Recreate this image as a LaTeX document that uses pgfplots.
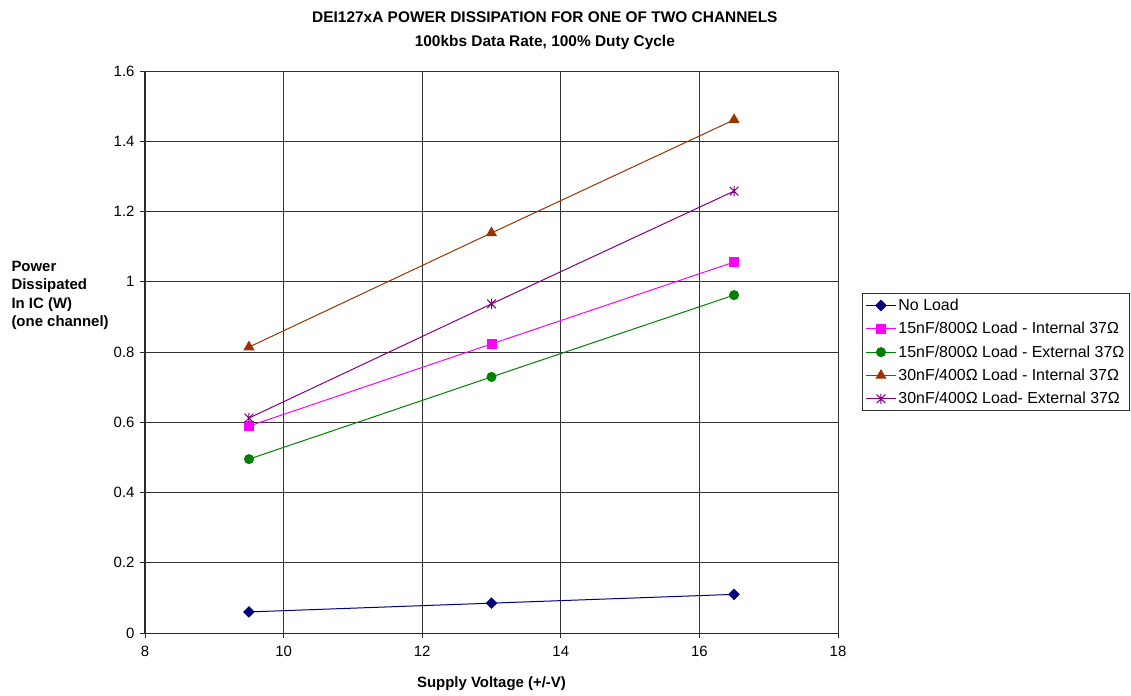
\documentclass[border=0pt]{standalone}
\usepackage{pgfplots}
\pgfplotsset{compat=1.18}
\usepackage{fontspec}
\setmainfont{Liberation Sans}

\definecolor{noload}{RGB}{0,0,128}
\definecolor{intA}{RGB}{255,0,255}
\definecolor{extA}{RGB}{0,128,0}
\definecolor{intB}{RGB}{153,51,0}
\definecolor{extB}{RGB}{128,0,128}

% Excel-style star: an X with a vertical bar through it
\pgfdeclareplotmark{xstar}{%
  \pgfpathmoveto{\pgfqpoint{-\pgfplotmarksize}{-\pgfplotmarksize}}%
  \pgfpathlineto{\pgfqpoint{\pgfplotmarksize}{\pgfplotmarksize}}%
  \pgfpathmoveto{\pgfqpoint{-\pgfplotmarksize}{\pgfplotmarksize}}%
  \pgfpathlineto{\pgfqpoint{\pgfplotmarksize}{-\pgfplotmarksize}}%
  \pgfpathmoveto{\pgfqpoint{0pt}{-1.2\pgfplotmarksize}}%
  \pgfpathlineto{\pgfqpoint{0pt}{1.2\pgfplotmarksize}}%
  \pgfusepathqstroke}

\begin{document}
\begin{tikzpicture}
\path[use as bounding box] (-145bp,-63bp) rectangle (986bp,633bp);
\begin{axis}[
    at={(0,0)}, anchor=south west,
    scale only axis,
    width=693bp, height=562bp,
    xmin=8, xmax=18, ymin=0, ymax=1.6,
    xtick={8,10,12,14,16,18},
    ytick={0,0.2,0.4,0.6,0.8,1,1.2,1.4,1.6},
    axis lines*=left,
    axis line style={black!85, line width=1bp},
    grid=major,
    grid style={black!80, line width=0.8bp},
    tick align=outside,
    major tick length=5bp,
    tick style={black!85, line width=0.8bp},
    /pgf/number format/assume math mode=true,
    ticklabel style={font=\fontsize{15}{18}\selectfont},
    xticklabel style={yshift=-5bp},
    yticklabel style={xshift=-2bp},
    clip=false,
    title={DEI127xA POWER DISSIPATION FOR ONE OF TWO CHANNELS\\100kbs Data Rate, 100\% Duty Cycle},
    title style={font=\bfseries\fontsize{15.5}{24}\selectfont, align=center,
        at={(axis description cs:0.577,1)}, anchor=center, yshift=34bp},
    xlabel={Supply Voltage (+/-V)},
    xlabel style={font=\bfseries\fontsize{15}{18}\selectfont,
        at={(axis description cs:0.5,0)}, anchor=center, yshift=-51bp},
    legend style={at={(axis description cs:1.0346,0.605)}, anchor=north west,
        draw=black!80, line width=1bp, fill=white,
        font=\fontsize{16}{18}\selectfont,
        inner xsep=3bp, inner ysep=3.5bp, row sep=6.3bp,
        cells={anchor=west}},
    legend image code/.code={%
        \draw[mark repeat=2,mark phase=2] plot coordinates {(0bp,0bp)(15bp,0bp)(30bp,0bp)};},
    every axis plot/.append style={line width=1bp},
]
\addplot[color=noload, mark=square*, mark size=3.6bp, mark options={rotate=45}]
    coordinates {(9.5,0.060) (13,0.085) (16.5,0.110)};
\addlegendentry{No Load}
\addplot[color=intA, mark=square*, mark size=4.5bp]
    coordinates {(9.5,0.589) (13,0.823) (16.5,1.056)};
\addlegendentry{15nF/800Ω Load - Internal 37Ω}
\addplot[color=extA, mark=*, mark size=4.5bp]
    coordinates {(9.5,0.495) (13,0.729) (16.5,0.962)};
\addlegendentry{15nF/800Ω Load - External 37Ω}
\addplot[color=intB, mark=triangle*, mark size=5.5bp]
    coordinates {(9.5,0.814) (13,1.139) (16.5,1.461)};
\addlegendentry{30nF/400Ω Load - Internal 37Ω}
\addplot[color=extB, mark=xstar, mark size=4.3bp]
    coordinates {(9.5,0.612) (13,0.937) (16.5,1.258)};
\addlegendentry{30nF/400Ω Load- External 37Ω}

\node[anchor=west, align=left, font=\bfseries\fontsize{15}{18.5}\selectfont]
    at (rel axis cs:0,0.601) [xshift=-137bp] {Power\\Dissipated\\In IC (W)\\(one channel)};
\end{axis}
\end{tikzpicture}
\end{document}
